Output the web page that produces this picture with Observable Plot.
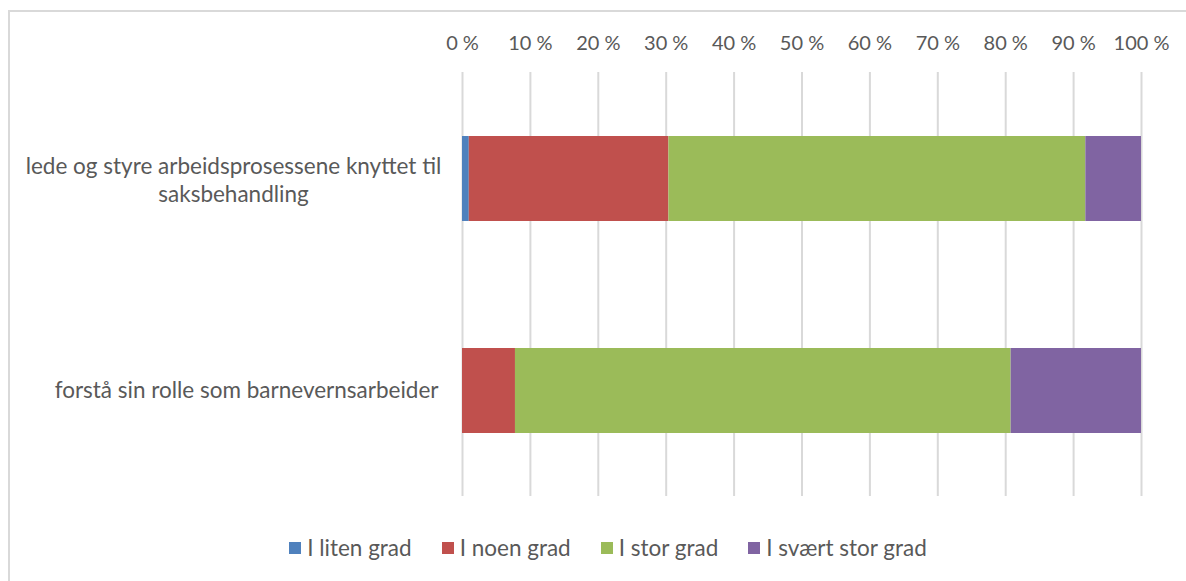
<!DOCTYPE html>
<html>
<head>
<meta charset="utf-8">
<script src="https://cdn.jsdelivr.net/npm/d3@7"></script>
<script src="https://cdn.jsdelivr.net/npm/@observablehq/plot@0.6"></script>
<style>
  html, body { margin: 0; padding: 0; background: #fff; }
  body { width: 1186px; height: 581px; position: relative; overflow: hidden; font-family: Lato, "Liberation Sans", sans-serif; color: #595959; }
  #frame { position: absolute; left: 8px; top: 10px; width: 1200px; height: 600px; border-left: 2px solid #d9d9d9; border-top: 2px solid #d9d9d9; }
  #chart { position: absolute; left: 0; top: 0; }
  #legend { position: absolute; left: 0; top: 534px; width: 1216px; display: flex; justify-content: center; font-size: 22.5px; color: #595959; }
  .item { display: flex; align-items: center; margin: 0 15px; }
  .sw { width: 12px; height: 12px; margin-right: 6px; }
</style>
</head>
<body>
<div id="frame"></div>
<div id="chart"></div>
<div id="legend"></div>
<script>
const categories = [
  "lede og styre arbeidsprosessene knyttet til\nsaksbehandling",
  "forstå sin rolle som barnevernsarbeider"
];
const series = ["I liten grad", "I noen grad", "I stor grad", "I svært stor grad"];
const colors = ["#4f81bd", "#c0504d", "#9bbb59", "#8064a2"];
const litenGrad = [1.0, 0.0];
const noenGrad = [29.4, 7.8];
const storGrad = [61.4, 73.0];
const svaertStorGrad = [8.2, 19.2];
const xTicks = [0, 10, 20, 30, 40, 50, 60, 70, 80, 90, 100];

const seriesValues = [litenGrad, noenGrad, storGrad, svaertStorGrad];
const data = [];
categories.forEach((c, i) => {
  series.forEach((s, j) => data.push({category: c, series: s, value: seriesValues[j][i]}));
});

const multi = categories.filter(c => c.includes("\n"));
const single = categories.filter(c => !c.includes("\n"));

const chart = Plot.plot({
  width: 1186,
  height: 515,
  marginLeft: 462,
  marginRight: 45,
  marginTop: 72,
  marginBottom: 19,
  style: {fontFamily: "Lato, 'Liberation Sans', sans-serif", fontSize: "20px", color: "#595959", background: "transparent"},
  x: {domain: [0, 100], axis: null},
  y: {domain: categories, padding: 0.6, paddingOuter: 0.3, axis: null},
  color: {domain: series, range: colors},
  marks: [
    Plot.gridX(xTicks, {stroke: "#d9d9d9", strokeOpacity: 1, strokeWidth: 2}),
    Plot.axisX(xTicks, {anchor: "top", label: null, tickSize: 0, tickPadding: 23, tickFormat: d => d + " %", fontSize: 20, fill: "#595959"}),
    Plot.barX(data, Plot.stackX({x: "value", y: "category", fill: "series", order: series})),
    Plot.text(multi, {y: d => d, text: d => d, frameAnchor: "left", textAnchor: "middle", dx: -229, lineHeight: 1.24, fontSize: 22.5, fill: "#595959"}),
    Plot.text(single, {y: d => d, text: d => d, frameAnchor: "left", textAnchor: "end", dx: -24, fontSize: 22.5, fill: "#595959"})
  ]
});
document.getElementById("chart").appendChild(chart);

const legend = document.getElementById("legend");
series.forEach((s, i) => {
  const item = document.createElement("div");
  item.className = "item";
  const sw = document.createElement("span");
  sw.className = "sw";
  sw.style.background = colors[i];
  const t = document.createElement("span");
  t.textContent = s;
  item.appendChild(sw);
  item.appendChild(t);
  legend.appendChild(item);
});
</script>
</body>
</html>
